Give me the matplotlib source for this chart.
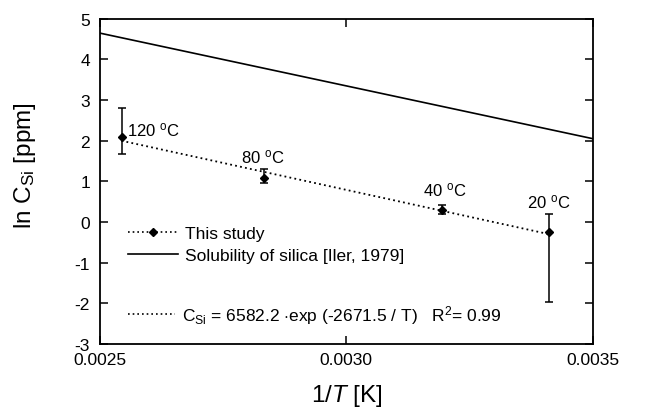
import matplotlib
matplotlib.use("Agg")
import matplotlib.pyplot as plt
from matplotlib.lines import Line2D

plt.rcParams["font.family"] = ["Liberation Sans", "DejaVu Sans"]
plt.rcParams["mathtext.fontset"] = "custom"
plt.rcParams["mathtext.rm"] = "Liberation Sans"
plt.rcParams["mathtext.it"] = "Liberation Sans:italic"
plt.rcParams["axes.unicode_minus"] = False

# measured points (1/T, ln C_Si) with asymmetric error bars
temps = ["120", "80", "40", "20"]
inv_t = [0.002544, 0.002832, 0.003193, 0.003411]
ln_c = [2.08, 1.08, 0.30, -0.25]
err_low = [0.41, 0.12, 0.10, 1.73]
err_high = [0.73, 0.22, 0.13, 0.45]

# fitted curve endpoints
fit_x = [0.002544, 0.003411]
fit_y = [2.00, -0.30]

# Iler (1979) silica solubility line
iler_x = [0.0025, 0.0035]
iler_y = [4.65, 2.05]

# label anchors for temperature annotations (data units)
label_x = [0.002555, 0.00283, 0.0032, 0.00341]
label_y = [2.05, 1.40, 0.58, 0.30]
label_ha = ["left", "center", "center", "center"]

DOTS = (0, (1, 1.8))


def main():
    fig = plt.figure(figsize=(6.61, 4.14), dpi=100)
    ax = fig.add_axes([0.151, 0.167, 0.746, 0.785])

    ax.plot(iler_x, iler_y, color="black", lw=1.2)
    ax.plot(fit_x, fit_y, color="black", lw=1.3, linestyle=DOTS)
    ax.errorbar(
        inv_t, ln_c,
        yerr=[err_low, err_high],
        fmt="D", ms=4, color="black",
        ecolor="black", elinewidth=1.1, capsize=3, capthick=1.1,
    )

    for t, x, y, ha in zip(temps, label_x, label_y, label_ha):
        ax.text(x, y, t + r" $^{\mathrm{o}}$C", fontsize=12,
                ha=ha, va="bottom")

    ax.set_xlim(0.0025, 0.0035)
    ax.set_ylim(-3, 5)
    ax.set_xticks([0.0025, 0.0030, 0.0035])
    ax.set_xticklabels(["0.0025", "0.0030", "0.0035"])
    ax.set_yticks(range(-3, 6))
    ax.tick_params(direction="in", length=6, width=1.1, labelsize=12.5,
                   top=True, right=True)
    ax.tick_params(axis="x", pad=6)
    ax.tick_params(axis="y", pad=7)
    for s in ax.spines.values():
        s.set_linewidth(1.3)

    ax.set_xlabel(r"1/$\mathit{T}$ [K]", fontsize=17.5)
    ax.xaxis.set_label_coords(0.5, -0.118)
    ax.set_ylabel(r"ln C$_{\mathrm{Si}}$ [ppm]", fontsize=17.5)
    ax.yaxis.set_label_coords(-0.125, 0.55)

    handles = [
        Line2D([], [], color="black", lw=1.2, linestyle=DOTS,
               marker="D", ms=4),
        Line2D([], [], color="black", lw=1.2),
    ]
    leg1 = ax.legend(
        handles, ["This study", "Solubility of silica [Iler, 1979]"],
        loc="upper left", bbox_to_anchor=(0.057, 0.362),
        frameon=False, fontsize=12.5, handlelength=2.9,
        handletextpad=0.4, labelspacing=0.35,
        borderaxespad=0, borderpad=0,
    )
    ax.add_artist(leg1)
    ax.legend(
        [Line2D([], [], color="black", lw=1.2, linestyle=DOTS)],
        [r"C$_{\mathrm{Si}}$ = 6582.2 $\cdot$exp (-2671.5 / T)   R$^2$= 0.99"],
        loc="upper left", bbox_to_anchor=(0.057, 0.125),
        frameon=False, fontsize=12.5, handlelength=2.7,
        handletextpad=0.4, borderaxespad=0, borderpad=0,
    )

    fig.savefig("out.png", dpi=100, facecolor="white")
    plt.close(fig)


if __name__ == "__main__":
    main()
